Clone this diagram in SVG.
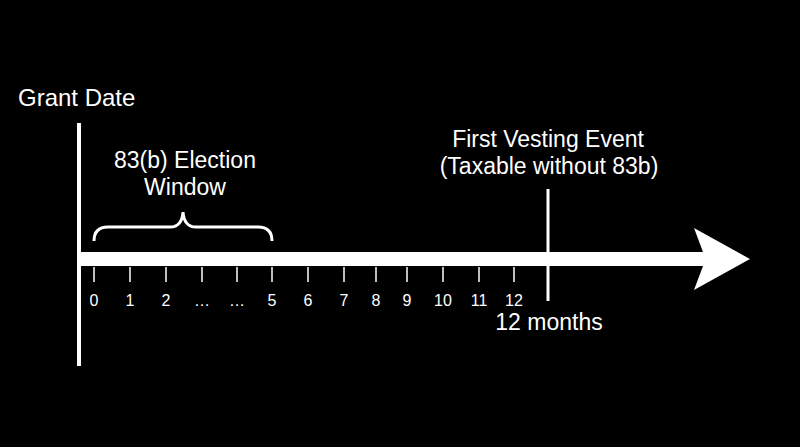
<svg xmlns="http://www.w3.org/2000/svg" width="800" height="447" viewBox="0 0 800 447">
<style>
text{font-family:"Liberation Sans",Arial,sans-serif;fill:#fff}
.lbl{font-size:23px;text-anchor:middle}
.num{font-size:16px;text-anchor:middle}
.tick{stroke:#fff;stroke-width:1.5}
</style>
<rect width="800" height="447" fill="#000"/>
<g id="connectors">
<path id="timeline-arrow" d="M79,252 H703 L694,228 L750,259 L694,290 L703,266 H79 Z" fill="#fff"/>
<line x1="79" y1="123" x2="79" y2="366" stroke="#fff" stroke-width="4"/>
<line x1="548" y1="189" x2="548" y2="301" stroke="#fff" stroke-width="3"/>
<path d="M94,241 Q94,227 108,227 H170 Q182,227 183,212 Q184,227 196,227 H258 Q272,227 272,241" fill="none" stroke="#fff" stroke-width="3"/>
<g class="tick">
<line x1="94" y1="267" x2="94" y2="282"/>
<line x1="130" y1="267" x2="130" y2="282"/>
<line x1="166" y1="267" x2="166" y2="282"/>
<line x1="202" y1="267" x2="202" y2="282"/>
<line x1="237" y1="267" x2="237" y2="282"/>
<line x1="272" y1="267" x2="272" y2="282"/>
<line x1="308" y1="267" x2="308" y2="282"/>
<line x1="344" y1="267" x2="344" y2="282"/>
<line x1="376" y1="267" x2="376" y2="282"/>
<line x1="407" y1="267" x2="407" y2="282"/>
<line x1="443" y1="267" x2="443" y2="282"/>
<line x1="479" y1="267" x2="479" y2="282"/>
<line x1="514" y1="267" x2="514" y2="282"/>
</g>
</g>
<g id="grant-date"><text x="18" y="106" style="font-size:24px">Grant Date</text></g>
<g id="election-window">
<text class="lbl" x="185" y="168">83(b) Election</text>
<text class="lbl" x="185" y="195">Window</text>
</g>
<g id="first-vesting">
<text class="lbl" x="548" y="147">First Vesting Event</text>
<text class="lbl" x="549" y="174">(Taxable without 83b)</text>
</g>
<g id="twelve-months"><text class="lbl" x="549" y="330">12 months</text></g>
<g id="tick-labels">
<text class="num" x="94" y="306">0</text>
<text class="num" x="130" y="306">1</text>
<text class="num" x="166" y="306">2</text>
<text class="num" x="202" y="306">…</text>
<text class="num" x="237" y="306">…</text>
<text class="num" x="272" y="306">5</text>
<text class="num" x="308" y="306">6</text>
<text class="num" x="344" y="306">7</text>
<text class="num" x="376" y="306">8</text>
<text class="num" x="407" y="306">9</text>
<text class="num" x="443" y="306">10</text>
<text class="num" x="479" y="306">11</text>
<text class="num" x="514" y="306">12</text>
</g>
</svg>
